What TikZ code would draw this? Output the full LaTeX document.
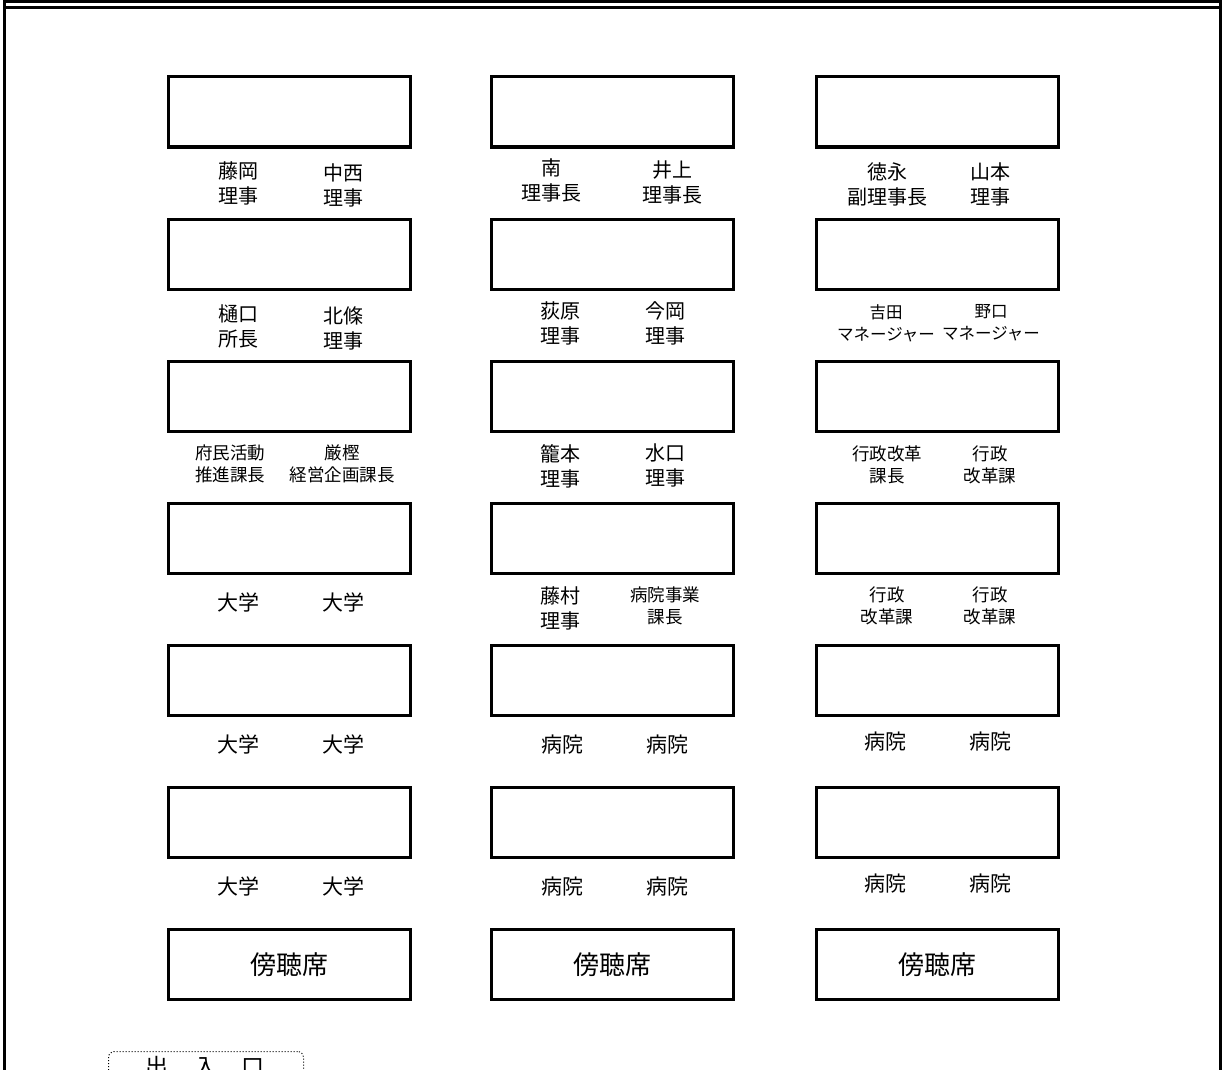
\documentclass[tikz,border=0pt]{standalone}
\usepackage{fontspec}
\setmainfont{Noto Sans CJK JP}
\begin{document}
\begin{tikzpicture}[x=1pt,y=-1pt,
  desk/.style={draw,line width=3pt,minimum width=242pt,minimum height=70pt,inner sep=0pt},
  lab/.style={align=center,inner sep=0pt,font=\fontsize{20}{25}\selectfont},
  slab/.style={align=center,inner sep=0pt,font=\fontsize{17.5}{22}\selectfont},
  mlab/.style={align=center,inner sep=0pt,font=\fontsize{16.5}{22}\selectfont},
  blab/.style={inner sep=0pt,font=\fontsize{21}{24}\selectfont},
  border/.style={line width=3pt}]
\useasboundingbox (0,0) rectangle (1223,1070);
\clip (0,0) rectangle (1223,1070);
% frame
\draw[border] (4.5,0) -- (4.5,1075);
\draw[border] (1220,0) -- (1220,1075);
\draw[border] (4.5,2) -- (1220,2);
\draw[border] (4.5,7.5) -- (1220,7.5);
% desks
\foreach \c/\x in {1/289,2/612,3/937}{
  \foreach \r/\y in {1/112,2/254,3/396,4/538,5/680,6/822}{
    \node[desk] (d\c\r) at (\x,\y) {};
  }
  \node[desk,font=\fontsize{26}{30}\selectfont] (g\c) at (\x,964.5) {傍聴席};
}
% row 1
\node[lab] (l11a) at (238,183) {藤岡\\理事};
\node[lab] (l11b) at (343,185) {中西\\理事};
\node[lab] (l21a) at (551,180) {南\\理事長};
\node[lab] (l21b) at (672,182) {井上\\理事長};
\node[lab] (l31a) at (887,184) {徳永\\副理事長};
\node[lab] (l31b) at (990,184) {山本\\理事};
% row 2
\node[lab] (l12a) at (238,326) {樋口\\所長};
\node[lab] (l12b) at (343,328) {北條\\理事};
\node[lab] (l22a) at (560,323) {荻原\\理事};
\node[lab] (l22b) at (665,323) {今岡\\理事};
\node[mlab] (l32a) at (886,323) {吉田\\マネージャー};
\node[mlab] (l32b) at (991,323) {野口\\マネージャー};
% row 3
\node[slab] (l13a) at (230,464) {府民活動\\推進課長};
\node[slab] (l13b) at (342,464) {厳樫\\経営企画課長};
\node[lab] (l23a) at (560,466) {籠本\\理事};
\node[lab] (l23b) at (665,465) {水口\\理事};
\node[slab] (l33a) at (887,465) {行政改革\\課長};
\node[slab] (l33b) at (990,465) {行政\\改革課};
% row 4
\node[blab] (l14a) at (238,602) {大学};
\node[blab] (l14b) at (343,602) {大学};
\node[lab] (l24a) at (560,608) {藤村\\理事};
\node[slab] (l24b) at (665,606) {病院事業\\課長};
\node[slab] (l34a) at (887,606) {行政\\改革課};
\node[slab] (l34b) at (990,606) {行政\\改革課};
% row 5
\node[blab] (l15a) at (238,744) {大学};
\node[blab] (l15b) at (343,744) {大学};
\node[blab] (l25a) at (562,745) {病院};
\node[blab] (l25b) at (667,745) {病院};
\node[blab] (l35a) at (885,742) {病院};
\node[blab] (l35b) at (990,742) {病院};
% row 6
\node[blab] (l16a) at (238,886) {大学};
\node[blab] (l16b) at (343,886) {大学};
\node[blab] (l26a) at (562,887) {病院};
\node[blab] (l26b) at (667,887) {病院};
\node[blab] (l36a) at (885,884) {病院};
\node[blab] (l36b) at (990,884) {病院};
% entrance
\node[draw,dotted,line width=1pt,rounded corners=6pt,minimum width=195pt,minimum height=50pt,anchor=north west,inner sep=0pt] (door) at (108,1051) {};
\node[inner sep=0pt,anchor=north,font=\fontsize{23}{26}\selectfont] (doort) at (205,1056) {出\hspace{26pt}入\hspace{24pt}口};
\end{tikzpicture}
\end{document}
